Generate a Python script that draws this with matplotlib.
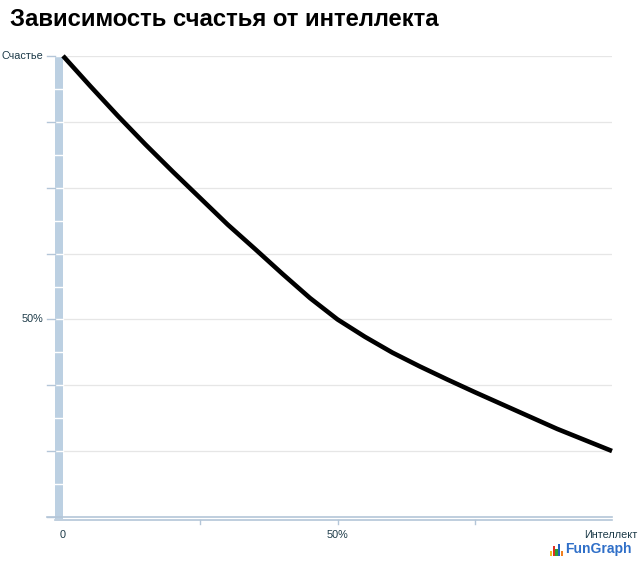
import matplotlib
matplotlib.use("Agg")
import matplotlib.pyplot as plt
from matplotlib.patches import Rectangle

plt.rcParams['font.family'] = ['Liberation Sans', 'DejaVu Sans']

title = "Зависимость счастья от интеллекта"
intellect = [0, 5, 10, 15, 20, 25, 30, 35, 40, 45, 50, 55, 60, 65, 70, 75, 80, 85, 90, 95, 100]
happiness = [116.7, 109.0, 101.5, 94.3, 87.4, 80.7, 74.0, 67.8, 61.5, 55.4, 50.0,
             45.6, 41.6, 38.1, 34.8, 31.6, 28.5, 25.4, 22.3, 19.5, 16.7]
x_tick_pos = [0, 50, 100]
x_tick_labels = ["0", "50%", "Интеллект"]
y_tick_pos = [50, 116.67]
y_tick_labels = ["50%", "Счастье"]

W, H = 640, 565
fig = plt.figure(figsize=(W / 100, H / 100), dpi=100)
ax = fig.add_axes([63 / W, 48 / H, (612 - 63) / W, (517 - 56) / H])
ymax = 700 / 6
ax.set_xlim(0, 100)
ax.set_ylim(0, ymax)

axis_col = "#b4c6d8"
grid_col = "#e6e6e6"
text_col = "#1c3a48"

# gridlines
step = 100 / 6
for i in range(1, 8):
    ax.axhline(i * step, color=grid_col, lw=0.9, zorder=1)

# left band
band = Rectangle((-8 / 549 * 100, -2 / 461 * ymax), 8 / 549 * 100, ymax + 2 / 461 * ymax,
                 transform=ax.transData, facecolor="#bcd0e2", edgecolor="none",
                 clip_on=False, zorder=2)
ax.add_patch(band)
for i in range(1, 15):
    yv = i * step / 2
    ax.plot([-8 / 549 * 100, 0], [yv, yv], color="white", lw=1.0, clip_on=False, zorder=3)
# major ticks outside band
for i in range(0, 8):
    yv = i * step
    ax.plot([-16 / 549 * 100, -8 / 549 * 100], [yv, yv], color=axis_col, lw=1.0,
            clip_on=False, zorder=3)

# bottom axis lines
ax.plot([-16 / 549 * 100, 100], [0, 0], color=axis_col, lw=1.2, clip_on=False, zorder=3)
ax.plot([-8 / 549 * 100, 100], [-2.5 / 461 * ymax] * 2, color=axis_col, lw=1.2,
        clip_on=False, zorder=3)
for xv in [25, 50, 75]:
    ax.plot([xv, xv], [-2.5 / 461 * ymax, -7 / 461 * ymax], color=axis_col, lw=1.0,
            clip_on=False, zorder=3)

ax.plot(intellect, happiness, color="black", lw=3.3, solid_capstyle="butt",
        solid_joinstyle="round", zorder=5, clip_on=False)

for s in ax.spines.values():
    s.set_visible(False)
ax.set_xticks([])
ax.set_yticks([])

# tick labels
for yv, lab in zip(y_tick_pos, y_tick_labels):
    ax.text(-20 / 549 * 100, yv, lab, ha="right", va="center", fontsize=7.8,
            color=text_col, clip_on=False)
for xv, lab in zip(x_tick_pos, x_tick_labels):
    if lab == "Интеллект":
        fig.text(637 / W, 1 - 535 / H, lab, ha="right", va="center", fontsize=7.8, color=text_col)
    else:
        ax.text(xv, -18 / 461 * ymax, lab, ha="center", va="center", fontsize=7.8,
                color=text_col, clip_on=False)

fig.text(10 / W, 1 - 20 / H, title, ha="left", va="center", fontsize=17.2,
         fontweight="bold", color="black")

# FunGraph logo
bars = [("#f0c020", 5), ("#e03020", 10), ("#30a030", 7), ("#2060c0", 12), ("#f08020", 5)]
for i, (c, h) in enumerate(bars):
    fig.patches.append(Rectangle(((550 + i * 2.7) / W, (565 - 556) / H), 2.3 / W, h / H,
                                 transform=fig.transFigure, facecolor=c, edgecolor="none"))
fig.text(565 / W, 1 - 549 / H, "FunGraph", ha="left", va="center", fontsize=10,
         fontweight="bold", color="#2f6fc8")

fig.savefig("out.png", dpi=100, facecolor="white")
